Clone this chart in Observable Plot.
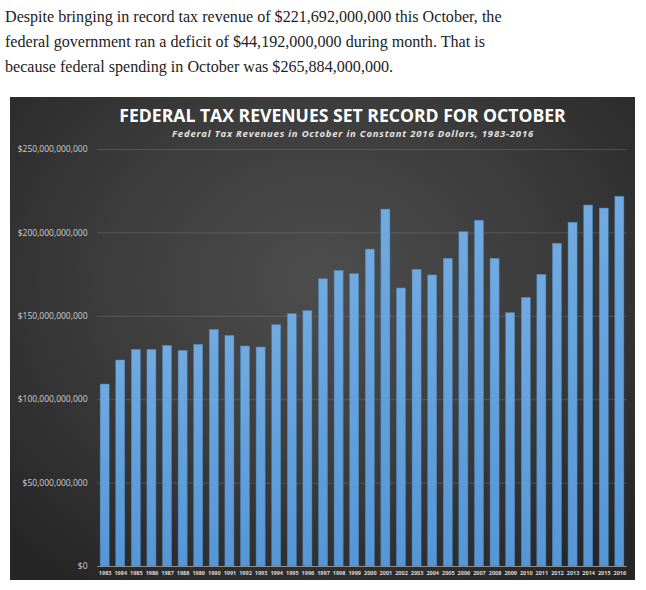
<!DOCTYPE html>
<html>
<head>
<meta charset="utf-8">
<script src="https://cdn.jsdelivr.net/npm/d3@7"></script>
<script src="https://cdn.jsdelivr.net/npm/@observablehq/plot@0.6"></script>
<style>
  html, body { margin: 0; padding: 0; background: #fff; width: 646px; height: 590px; overflow: hidden; }
  #intro {
    position: absolute; left: 5px; top: 4px; margin: 0;
    font-family: "Liberation Serif", "DejaVu Serif", serif;
    font-size: 17.5px; line-height: 25px; color: #222; white-space: nowrap;
    transform-origin: 0 0; transform: scaleX(0.92);
  }
  #panel {
    position: absolute; left: 10px; top: 97px; width: 625px; height: 483px;
    background: radial-gradient(ellipse 70% 75% at 50% 38%, #4d4d4d 0%, #3c3c3c 50%, #262626 100%);
    overflow: hidden;
  }
  #title {
    position: absolute; left: 0; width: 665px; top: 8px; text-align: center;
    font-family: "Open Sans", sans-serif; font-weight: 700; font-size: 17.6px; color: #fff;
    line-height: 20px; white-space: nowrap;
  }
  #subtitle {
    position: absolute; left: 0; width: 686px; top: 31px; text-align: center;
    font-family: "Open Sans", sans-serif; font-weight: 700; font-style: italic; font-size: 9.5px;
    letter-spacing: 0.8px; color: #e4e4e4; line-height: 12px; white-space: nowrap;
  }
  #chart { position: absolute; left: 0; top: 0; }
</style>
</head>
<body>
<p id="intro">Despite bringing in record tax revenue of $221,692,000,000 this October, the<br>federal government ran a deficit of $44,192,000,000 during month. That is<br>because federal spending in October was $265,884,000,000.</p>
<div id="panel">
  <div id="chart"></div>
  <div id="title">FEDERAL TAX REVENUES SET RECORD FOR OCTOBER</div>
  <div id="subtitle">Federal Tax Revenues in October in Constant 2016 Dollars, 1983-2016</div>
</div>
<script>
const years = ["1983","1984","1985","1986","1987","1988","1989","1990","1991","1992","1993","1994","1995","1996","1997","1998","1999","2000","2001","2002","2003","2004","2005","2006","2007","2008","2009","2010","2011","2012","2013","2014","2015","2016"];
// October federal tax revenue, billions of constant 2016 dollars
const revenueBillions = [109.1,123.5,129.9,129.9,132.3,129.3,132.9,141.9,138.3,131.9,131.3,144.7,151.3,153.1,172.2,177.3,175.3,190.0,214.0,166.7,177.9,174.5,184.5,200.4,207.3,184.5,151.9,161.1,174.9,193.5,206.1,216.4,214.6,221.7];
const yTicks = [0, 50e9, 100e9, 150e9, 200e9, 250e9];

const data = years.map((year, i) => ({year, revenue: revenueBillions[i] * 1e9}));

const chart = Plot.plot({
  width: 625,
  height: 483,
  marginTop: 52,
  marginBottom: 14,
  marginLeft: 87,
  marginRight: 8,
  style: {background: "transparent", fontFamily: "Open Sans, sans-serif", color: "#ddd"},
  x: {domain: years, paddingInner: 0.42, paddingOuter: 0.2, round: false, label: null},
  y: {domain: [0, 250e9], label: null},
  marks: [
    Plot.gridY(yTicks, {stroke: "#8a8a8a", strokeOpacity: 0.35}),
    Plot.barY(data, {x: "year", y: "revenue", fill: "url(#barGrad)", stroke: "#4a82b8", strokeWidth: 0.5}),
    Plot.ruleY([0], {stroke: "#8c8c8c", strokeWidth: 1}),
    Plot.axisY(yTicks, {tickSize: 0, tickPadding: 10, tickFormat: d3.format("$,"), fontSize: 8.5, fill: "#cfcfcf", label: null}),
    Plot.axisX({tickSize: 0, tickPadding: 5, fontSize: 5.5, fontWeight: "bold", fill: "#d8d8d8", label: null})
  ]
});

d3.select(chart).insert("defs", ":first-child").html(
  '<linearGradient id="barGrad" x1="0" y1="0" x2="0" y2="1">' +
  '<stop offset="0" stop-color="#70aae0"/>' +
  '<stop offset="1" stop-color="#5596d6"/>' +
  '</linearGradient>'
);

document.getElementById("chart").appendChild(chart);
</script>
</body>
</html>
